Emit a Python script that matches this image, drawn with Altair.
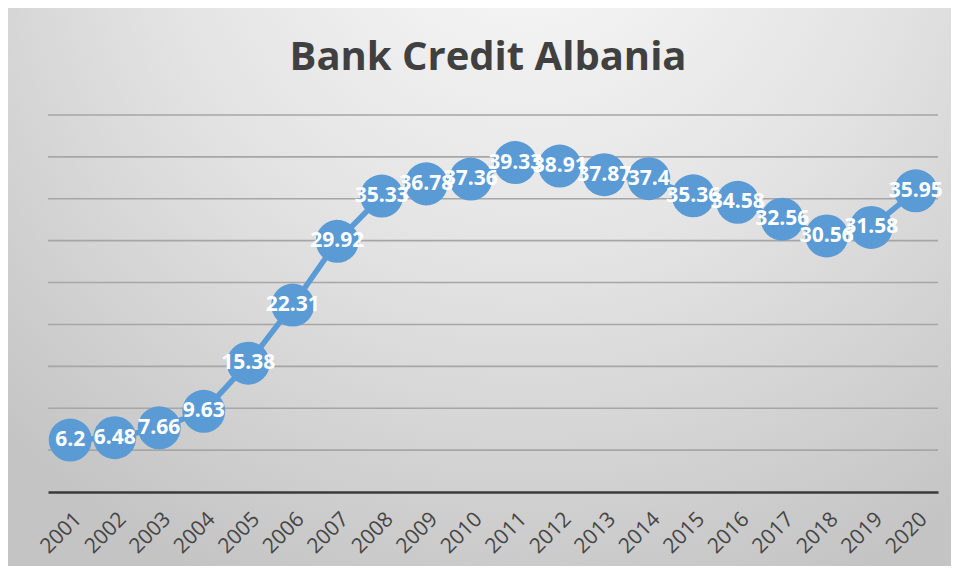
import altair as alt
import pandas as pd

years = [str(y) for y in range(2001, 2021)]
values = [6.2, 6.48, 7.66, 9.63, 15.38, 22.31, 29.92, 35.33, 36.78, 37.36,
          39.33, 38.91, 37.87, 37.4, 35.36, 34.58, 32.56, 30.56, 31.58, 35.95]
labels = ["6.2", "6.48", "7.66", "9.63", "15.38", "22.31", "29.92", "35.33", "36.78", "37.36",
          "39.33", "38.91", "37.87", "37.4", "35.36", "34.58", "32.56", "30.56", "31.58", "35.95"]
grid_values = [5, 10, 15, 20, 25, 30, 35, 40, 45]

df = pd.DataFrame({"year": years, "value": values, "label": labels})
gdf = pd.DataFrame({"g": grid_values})

W, H = 890, 377
PAD = {"left": 40, "right": 13, "top": 107, "bottom": 74}

yscale = alt.Scale(domain=[0, 45], nice=False)
xenc = alt.X("year:O", scale=alt.Scale(type="point", padding=0.5),
             axis=alt.Axis(title=None, labelAngle=-45, labelFontSize=21, labelColor="#454545",
                           labelFont="Open Sans", ticks=False, domainColor="#3a3a3a",
                           domainWidth=2.5, labelPadding=16, grid=False, zindex=1))
yenc = alt.Y("value:Q", scale=yscale, axis=None)

bg = alt.Chart(pd.DataFrame({"a": [0]})).mark_rect(
    fill=alt.Gradient(gradient="radial", x1=0.55, y1=0.08, r1=0.0, x2=0.55, y2=0.08, r2=0.8,
                      stops=[alt.GradientStop(color="#fafafa", offset=0),
                             alt.GradientStop(color="#e3e3e3", offset=0.5),
                             alt.GradientStop(color="#c4c4c4", offset=1)])
).encode(x=alt.value(-PAD["left"]), x2=alt.value(W + PAD["right"]),
         y=alt.value(-PAD["top"]), y2=alt.value(H + PAD["bottom"]))

grid = alt.Chart(gdf).mark_rule(color="#a6a6a6", strokeWidth=1.6).encode(
    y=alt.Y("g:Q", scale=yscale, axis=None), x=alt.value(0), x2=alt.value(W))

base = alt.Chart(df).encode(x=xenc, y=yenc)
line = base.mark_line(color="#5b9bd5", strokeWidth=5.5)
pts = base.mark_circle(color="#5b9bd5", opacity=1, size=1850)
txt = base.mark_text(color="white", font="Open Sans", fontWeight="bold", fontSize=21,
                     align="center", baseline="middle").encode(text="label:N")

chart = alt.layer(bg, grid, line, pts, txt).properties(
    width=W, height=H,
    padding=PAD,
    autosize=alt.AutoSizeParams(type="none"),
    title=alt.TitleParams("Bank Credit Albania", fontSize=40, font="Open Sans", fontWeight="bold",
                          color="#404040", anchor="middle", offset=0, dy=70, dx=-5),
).configure_view(stroke=None).configure(background="#cfcfcf")

chart.save("out.html", embed_options={"renderer": "svg", "actions": False})
